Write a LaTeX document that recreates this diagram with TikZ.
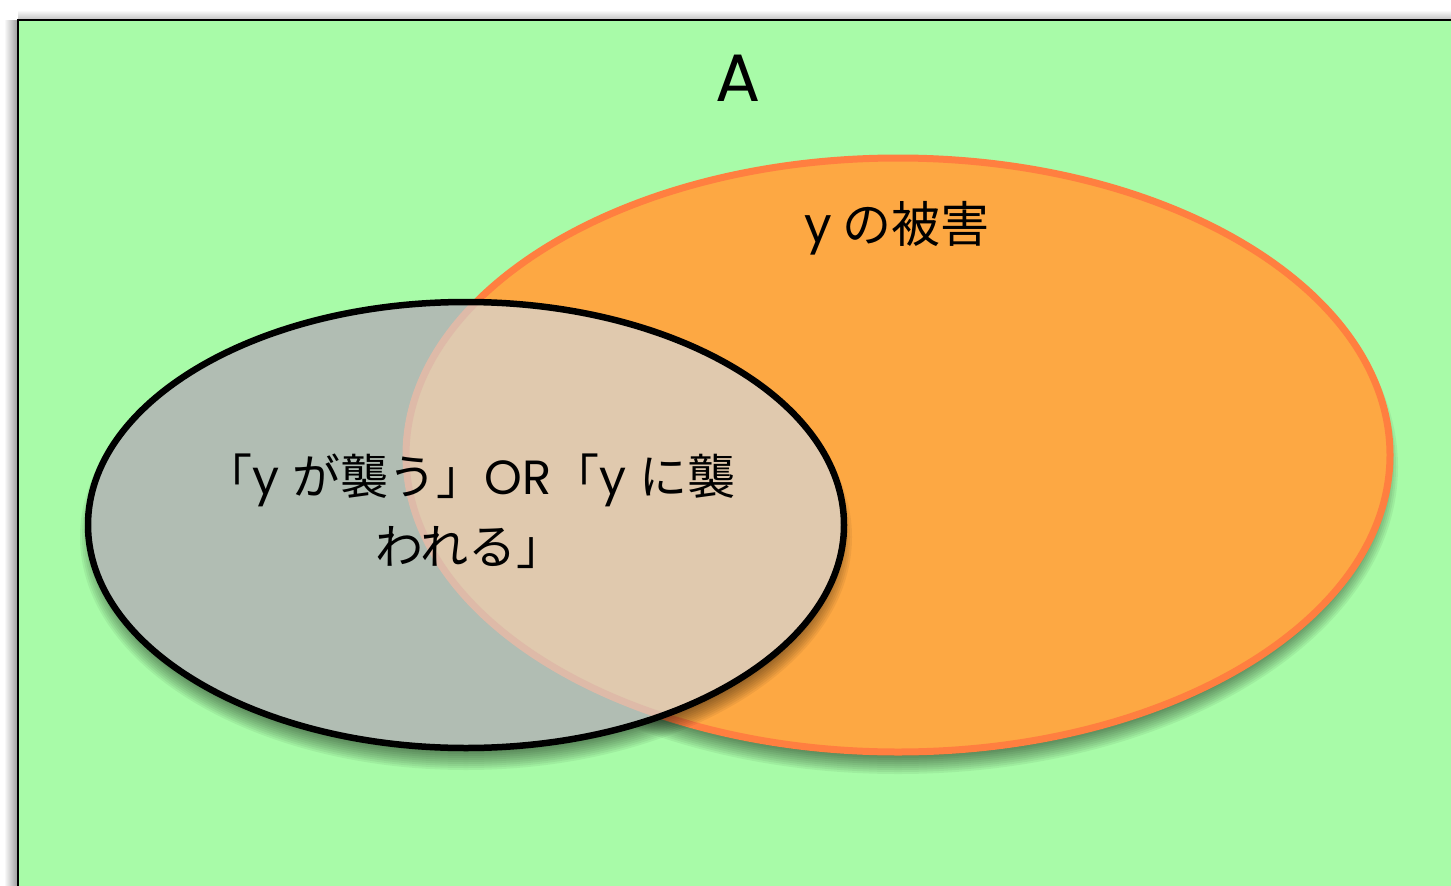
\documentclass[tikz,border=0pt]{standalone}
\usepackage{fontspec}
\setmainfont{Noto Sans CJK JP}
\newfontfamily\lat{Poppins}
\definecolor{bggreen}{RGB}{168,251,168}
\definecolor{orfill}{RGB}{253,168,67}
\definecolor{orline}{RGB}{255,127,64}
\definecolor{grfill}{RGB}{177,189,179}
\definecolor{beige}{RGB}{224,201,174}
\definecolor{pinkline}{RGB}{222,186,168}
\tikzset{
  lbl/.style={inner sep=0pt, text=black, align=center},
}
\begin{document}
\begin{tikzpicture}[x=1pt,y=-1pt]
\useasboundingbox (0,0) rectangle (1451,886);
\fill[white] (0,0) rectangle (1451,886);
% frame shadow
\shade[left color=white, right color=black!40] (4,20) rectangle (18,900);
\shade[top color=white, bottom color=black!25] (18,10) rectangle (1460,20);
% green frame
\fill[bggreen] (18,20) rectangle (1470,910);
\draw[line width=2pt] (18,910) -- (18,20) -- (1470,20);
\node[lbl, font=\lat\fontsize{67}{70}\selectfont] (A) at (738,78) {A};
% shadows of ellipses
\foreach \k in {1,...,10} {
  \fill[black, opacity=0.055] (898,467) ellipse [x radius=502-2*\k, y radius=309-2*\k];
}
% orange ellipse
\path[fill=orfill, draw=orline, line width=7pt] (898,455) ellipse [x radius=492, y radius=297];
\foreach \k in {1,...,10} {
  \fill[black, opacity=0.055] (466,537) ellipse [x radius=388-2*\k, y radius=235-2*\k];
}
% gray ellipse
\fill[grfill] (466,525) ellipse [x radius=378, y radius=223];
\begin{scope}
  \clip (466,525) ellipse [x radius=378, y radius=223];
  \fill[beige] (898,455) ellipse [x radius=495, y radius=300];
  \draw[pinkline, line width=7pt] (898,455) ellipse [x radius=492, y radius=297];
\end{scope}
\draw[black, line width=6.5pt] (466,525) ellipse [x radius=378, y radius=223];
% labels
\node[lbl, font=\fontsize{49}{56}\selectfont] (dmg) at (897,228) {{\lat y} の被害};
\node[lbl, font=\fontsize{48}{70}\selectfont] (atk) at (470,511) {「{\lat y }が襲う」{\lat OR}「{\lat y }に襲\\われる」};
\end{tikzpicture}
\end{document}
